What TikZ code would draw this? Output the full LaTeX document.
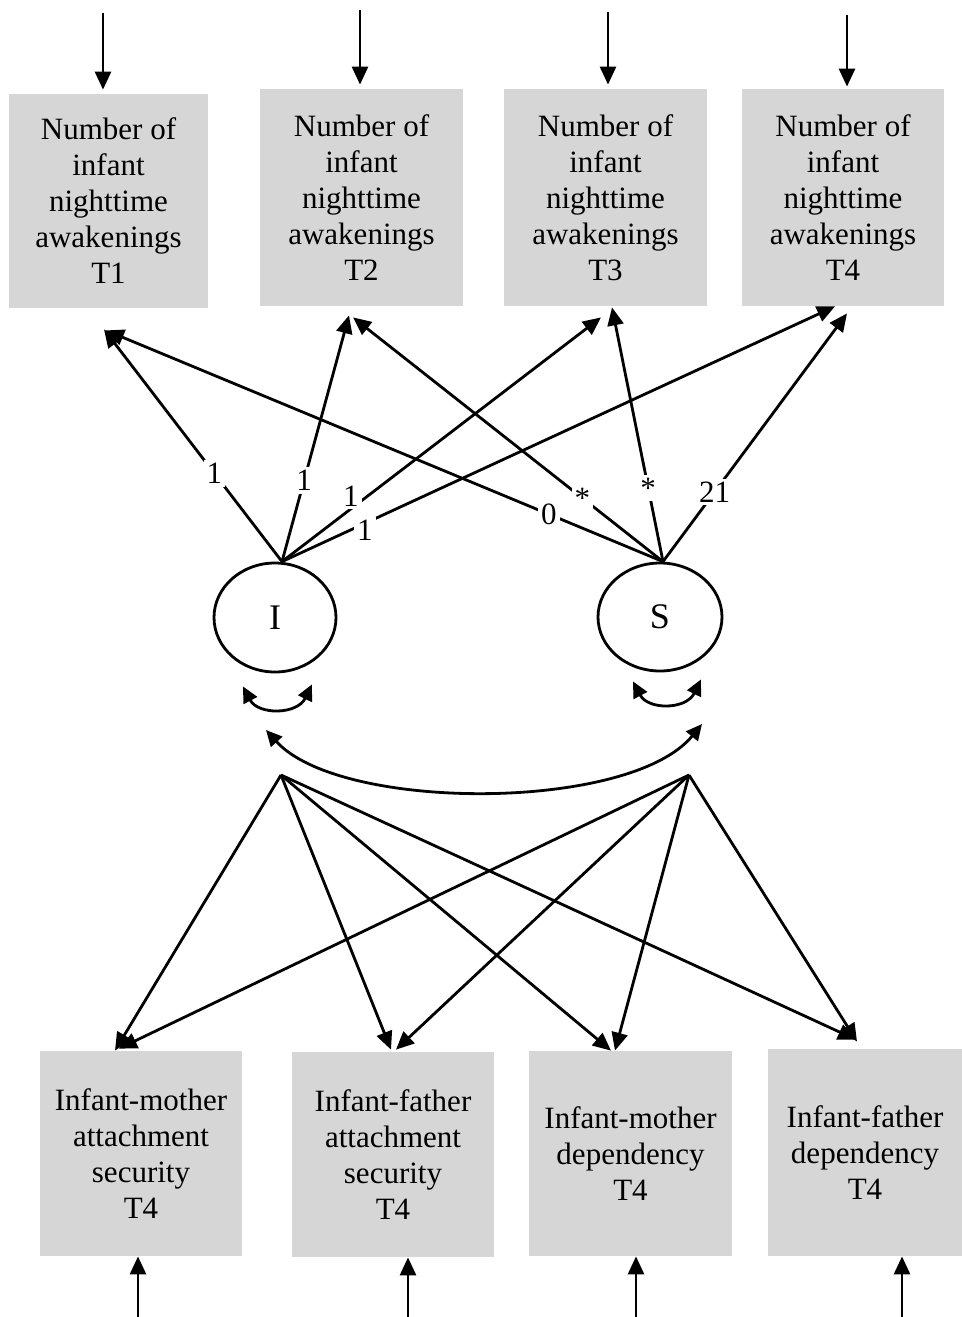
\documentclass[tikz,border=0pt]{standalone}
\usepackage{fontspec}
\setmainfont{Liberation Serif}
\usetikzlibrary{arrows.meta,shapes.geometric,calc}
\definecolor{boxgray}{RGB}{214,214,214}
\begin{document}
\begin{tikzpicture}[x=0.5pt,y=-0.5pt,
  obs/.style={rectangle,fill=boxgray,align=center,inner sep=0pt,font=\fontsize{15.5}{18}\selectfont},
  lat/.style={ellipse,draw,line width=1.4pt,inner sep=0pt,font=\fontsize{18}{20}\selectfont},
  arr/.style={line width=1.4pt,-{Triangle[length=9pt,width=8pt]}},
  dbl/.style={line width=1.4pt,{Triangle[length=8pt,width=7.5pt]}-{Triangle[length=8pt,width=7.5pt]}},
  lbl/.style={fill=white,inner sep=1.5pt,font=\fontsize{15.5}{18}\selectfont}]
\useasboundingbox (0,0) rectangle (962,1317);

% observed outcome boxes
\node[obs,minimum width=99.5pt,minimum height=107pt] (T1) at (108.5,201) {Number of\\infant\\nighttime\\awakenings\\T1};
\node[obs,minimum width=101.5pt,minimum height=108.5pt] (T2) at (361.5,197.5) {Number of\\infant\\nighttime\\awakenings\\T2};
\node[obs,minimum width=101.5pt,minimum height=108.5pt] (T3) at (605.5,197.5) {Number of\\infant\\nighttime\\awakenings\\T3};
\node[obs,minimum width=101pt,minimum height=108.5pt] (T4) at (843,197.5) {Number of\\infant\\nighttime\\awakenings\\T4};

% predictor boxes
\node[obs,minimum width=101pt,minimum height=102.5pt] (B1) at (141,1153.5) {Infant-mother\\attachment\\security\\T4};
\node[obs,minimum width=101pt,minimum height=102.5pt] (B2) at (393,1154.5) {Infant-father\\attachment\\security\\T4};
\node[obs,minimum width=101.5pt,minimum height=102.5pt] (B3) at (630.5,1153.5) {Infant-mother\\dependency\\T4};
\node[obs,minimum width=97pt,minimum height=103.5pt] (B4) at (865,1152.5) {Infant-father\\dependency\\T4};

% latent factors
\node[lat,minimum width=61pt,minimum height=54.5pt] (I) at (275,617.5) {I};
\node[lat,minimum width=62pt,minimum height=54pt] (S) at (660,617) {S};

% coordinates
\coordinate (hI) at ($(I.north)+(7,0)$);
\coordinate (hS) at ($(S.north)+(3,0)$);
\coordinate (t1i) at ($(T1.south)+(-4.5,21)$);
\coordinate (t1s) at ($(T1.south)+(-2.5,22)$);
\coordinate (t2i) at ($(T2.south)+(-12.5,9)$);
\coordinate (t2s) at ($(T2.south)+(-8.5,11)$);
\coordinate (t3i) at ($(T3.south)+(-4.5,11)$);
\coordinate (t3s) at ($(T3.south)+(6.5,1)$);
\coordinate (t4i) at ($(T4.south)+(-8,0)$);
\coordinate (t4s) at ($(T4.south)+(4,7)$);

\coordinate (hL) at (281,775);
\coordinate (hR) at (689,775);
\coordinate (b1l) at ($(B1.north)+(-26,0)$);
\coordinate (b1r) at ($(B1.north)+(-22,-2)$);
\coordinate (b2l) at ($(B2.north)+(-2,-2)$);
\coordinate (b2r) at ($(B2.north)+(3,-2)$);
\coordinate (b3l) at ($(B3.north)+(-19.5,0)$);
\coordinate (b3r) at ($(B3.north)+(-15.5,0)$);
\coordinate (b4l) at ($(B4.north)+(-9,-9)$);
\coordinate (b4r) at ($(B4.north)+(-8,-7)$);

\coordinate (e1) at (103,13);
\coordinate (e2) at (360,10);
\coordinate (e3) at (608,12);
\coordinate (e4) at (847,15);
\coordinate (f1) at (138,1317);
\coordinate (f2) at (408,1317);
\coordinate (f3) at (636,1317);
\coordinate (f4) at (902,1317);

\coordinate (vIa) at ($(I.south)+(-32,13)$);
\coordinate (vIb) at ($(I.south)+(37,11)$);
\coordinate (vSa) at ($(S.south)+(-27,9)$);
\coordinate (vSb) at ($(S.south)+(41,7)$);
\coordinate (cL) at (266,730);
\coordinate (cR) at (702,724);

% error arrows
\draw[arr,shorten >=2pt] (e1) -- (e1 |- T1.north);
\draw[arr,shorten >=2pt] (e2) -- (e2 |- T2.north);
\draw[arr,shorten >=2pt] (e3) -- (e3 |- T3.north);
\draw[arr,shorten >=1pt] (e4) -- (e4 |- T4.north);
\draw[arr] (f1) -- (f1 |- B1.south);
\draw[arr] (f2) -- (f2 |- B2.south);
\draw[arr] (f3) -- (f3 |- B3.south);
\draw[arr] (f4) -- (f4 |- B4.south);

% factor loadings
\draw[arr] (hI) -- node[lbl,pos=0.38] {1} (t1i);
\draw[arr] (hI) -- node[lbl,pos=0.33] {1} (t2i);
\draw[arr] (hI) -- node[lbl,pos=0.235,xshift=-3pt,yshift=4pt] {1} (t3i);
\draw[arr] (hI) -- node[lbl,pos=0.15,yshift=-3.5pt] {1} (t4i);
\draw[arr] (hS) -- node[lbl,pos=0.205] {0} (t1s);
\draw[arr] (hS) -- node[lbl,pos=0.26] {*} (t2s);
\draw[arr] (hS) -- node[lbl,pos=0.29] {*} (t3s);
\draw[arr] (hS) -- node[lbl,pos=0.28] {21} (t4s);

% variances and covariance
\draw[dbl] (vIa) .. controls (258,715) and (297,715) .. (vIb);
\draw[dbl] (vSa) .. controls (648,710) and (686,710) .. (vSb);
\draw[dbl] (cL) .. controls (340,812) and (630,812) .. (cR);

% regressions
\draw[arr] (hL) -- (b1l);
\draw[arr] (hL) -- (b2l);
\draw[arr] (hL) -- (b3l);
\draw[arr] (hL) -- (b4l);
\draw[arr] (hR) -- (b1r);
\draw[arr] (hR) -- (b2r);
\draw[arr] (hR) -- (b3r);
\draw[arr] (hR) -- (b4r);
\end{tikzpicture}
\end{document}
